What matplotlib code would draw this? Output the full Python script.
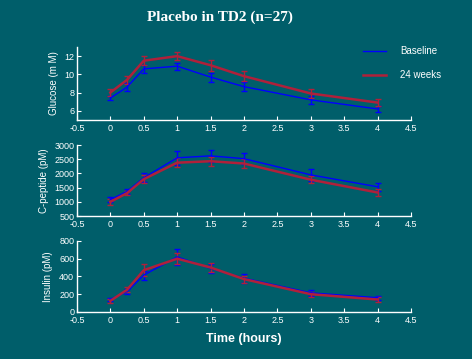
import numpy as np
import matplotlib
matplotlib.use('Agg')
import matplotlib.pyplot as plt
from matplotlib.lines import Line2D
from matplotlib.ticker import FormatStrFormatter

# time points (hours)
t = [0, 0.25, 0.5, 1, 1.5, 2, 3, 4]

# glucose (mM)
glu_base = [7.4, 8.6, 10.6, 10.9, 9.7, 8.65, 7.2, 6.2]
glu_base_err = [0.25, 0.4, 0.4, 0.4, 0.5, 0.5, 0.4, 0.3]
glu_24w = [8.0, 9.4, 11.5, 12.0, 11.0, 9.8, 7.9, 6.9]
glu_24w_err = [0.35, 0.45, 0.5, 0.45, 0.6, 0.55, 0.5, 0.4]

# C-peptide (pM)
cp_base = [1080, 1370, 1850, 2550, 2620, 2520, 1950, 1530]
cp_base_err = [100, 100, 150, 250, 200, 200, 200, 150]
cp_24w = [1000, 1310, 1800, 2380, 2430, 2350, 1780, 1330]
cp_24w_err = [100, 80, 150, 150, 150, 150, 120, 120]

# insulin (pM)
ins_base = [140, 230, 415, 620, 490, 380, 215, 160]
ins_base_err = [20, 30, 50, 90, 50, 50, 30, 25]
ins_24w = [125, 250, 470, 600, 500, 370, 200, 140]
ins_24w_err = [20, 30, 70, 60, 50, 40, 30, 25]

ylabels = ['Glucose (m M)', 'C-peptide (pM)', 'Insulin (pM)']
ylims = [(5, 13), (500, 3000), (0, 800)]
yticks = [[6, 8, 10, 12], np.arange(500, 3001, 500), np.arange(0, 801, 200)]
xticks = np.arange(-0.5, 4.51, 0.5)

bg = '#005E6A'
blue = '#0000FF'
red = '#B0203A'

plt.rcParams['font.family'] = ['Liberation Sans', 'DejaVu Sans']

fig = plt.figure(figsize=(4.72, 3.59), dpi=100, facecolor=bg)

boxes = [[0.163, 0.666, 0.708, 0.203],
         [0.163, 0.398, 0.708, 0.198],
         [0.163, 0.131, 0.708, 0.198]]
series = [(glu_base, glu_base_err, glu_24w, glu_24w_err),
          (cp_base, cp_base_err, cp_24w, cp_24w_err),
          (ins_base, ins_base_err, ins_24w, ins_24w_err)]

axes = []
for i in range(3):
    ax = fig.add_axes(boxes[i])
    ax.set_facecolor(bg)
    b, be, r, re = series[i]
    ax.errorbar(t, b, yerr=be, color=blue, lw=1.0, elinewidth=1.0,
                capsize=2.5)
    ax.errorbar(t, r, yerr=re, color=red, lw=1.8, elinewidth=1.0,
                capsize=2.5)
    ax.set_xlim(-0.5, 4.5)
    ax.set_ylim(*ylims[i])
    ax.set_xticks(xticks)
    ax.set_yticks(yticks[i])
    ax.xaxis.set_major_formatter(FormatStrFormatter('%g'))
    for s in ['top', 'right']:
        ax.spines[s].set_visible(False)
    for s in ['left', 'bottom']:
        ax.spines[s].set_color('white')
        ax.spines[s].set_linewidth(1.0)
    ax.tick_params(colors='white', labelsize=6.5, direction='in',
                   length=3, width=0.8, pad=2)
    ax.tick_params(axis='x', pad=3)
    ax.set_ylabel(ylabels[i], color='white', fontsize=7, labelpad=4)
    axes.append(ax)

# legend with plain line handles (no error bar glyphs)
handles = [Line2D([], [], color=blue, lw=1.0),
           Line2D([], [], color=red, lw=1.8)]
leg = axes[0].legend(handles, ['Baseline', '24 weeks'], loc='upper left',
                     bbox_to_anchor=(0.83, 1.13), frameon=False, fontsize=7,
                     handlelength=2.4, handletextpad=1.4, labelspacing=1.4)
for txt in leg.get_texts():
    txt.set_color('white')

fig.text(0.467, 0.952, 'Placebo in TD2 (n=27)', color='white', fontsize=11,
         fontweight='bold', family=['Liberation Serif', 'DejaVu Serif'],
         ha='center', va='center')
fig.text(0.517, 0.057, 'Time (hours)', color='white', fontsize=9,
         fontweight='bold', ha='center', va='center')

fig.savefig('out.png', dpi=100, facecolor=bg)
